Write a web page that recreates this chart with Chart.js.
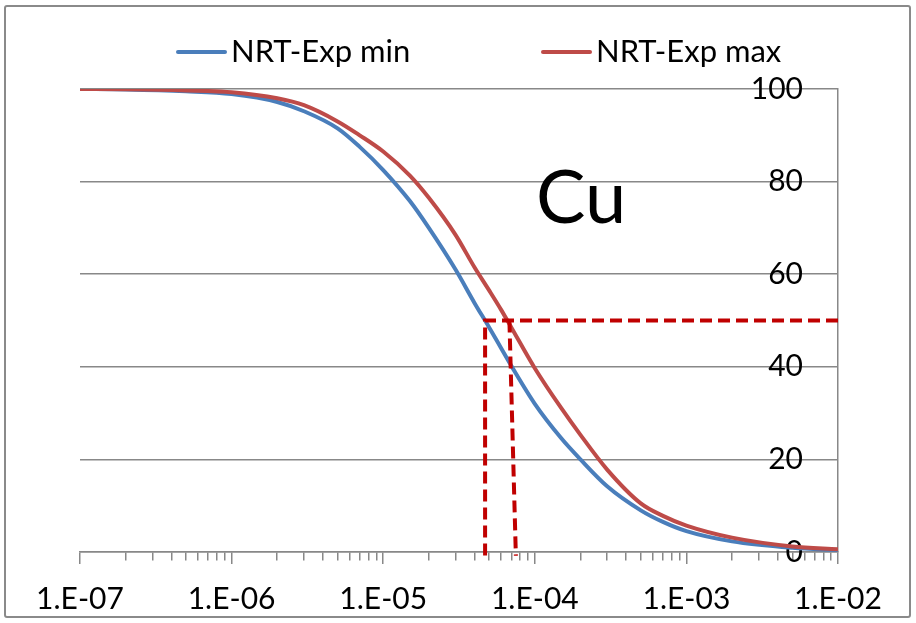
<!DOCTYPE html>
<html><head><meta charset="utf-8">
<script src="https://cdn.jsdelivr.net/npm/chart.js@4.4.1/dist/chart.umd.min.js"></script>
<style>
html,body{margin:0;padding:0;background:#fff;}
#wrap{position:relative;width:916px;height:623px;}
#frame{position:absolute;left:4px;top:5px;width:903px;height:609px;border:2px solid #8a8a8a;border-radius:3px;pointer-events:none;}
canvas{position:absolute;left:0;top:0;}
</style></head><body>
<div id="wrap"><canvas id="c" width="916" height="623"></canvas><div id="frame"></div></div>
<script>
// ---- data ----
const seriesNames = ['NRT-Exp min', 'NRT-Exp max'];
const concMin = [1e-7, 2e-7, 5e-7, 1e-6, 2e-6, 3e-6, 5e-6, 7e-6, 1e-5, 1.5e-5, 2e-5, 3e-5, 4e-5, 5e-5, 6e-5, 7e-5, 1e-4, 1.5e-4, 2e-4, 3e-4, 5e-4, 7e-4, 1e-3, 2e-3, 5e-3, 1e-2];
const pctMin  = [100, 99.9, 99.5, 98.9, 97.2, 95.2, 91.5, 87.5, 82.5, 75.8, 70, 61, 53.8, 48.5, 44, 40.2, 32, 24.5, 20, 14.2, 9, 6.5, 4.5, 2.3, 0.9, 0.4];
const concMax = [1e-7, 2e-7, 5e-7, 1e-6, 2e-6, 3e-6, 5e-6, 7e-6, 1e-5, 1.5e-5, 2e-5, 3e-5, 4e-5, 5e-5, 6e-5, 7e-5, 1e-4, 1.5e-4, 2e-4, 3e-4, 5e-4, 7e-4, 1e-3, 2e-3, 5e-3, 1e-2];
const pctMax  = [100, 99.95, 99.7, 99.3, 98, 96.5, 93, 90, 86.5, 81.3, 76.5, 68.5, 61.5, 56.5, 52.3, 48.5, 39.7, 31, 25.3, 17.8, 10.5, 7.8, 5.7, 3.1, 1.2, 0.6];
// dashed EC50 guide lines
const guideAConc = [1e-2, 4.7e-5, 4.7e-5];
const guideAPct  = [50, 50, -0.8];
const guideBConc = [6.8e-5, 7.5e-5];
const guideBPct  = [50, -0.8];
// axes
const xTickValues = [1e-7, 1e-6, 1e-5, 1e-4, 1e-3, 1e-2];
const xTickLabels = ['1.E-07', '1.E-06', '1.E-05', '1.E-04', '1.E-03', '1.E-02'];
const yTickValues = [0, 20, 40, 60, 80, 100];
const yTickLabels = ['0', '20', '40', '60', '80', '100'];
const annotationText = 'Cu';
const annotationAt = {conc: 1.02e-4, pct: 71};

const FONT = 'Lato, "Liberation Sans", sans-serif';
const zip = (xs, ys) => xs.map((x, i) => ({x, y: ys[i]}));

const legendPlugin = {
  id: 'customLegend',
  afterDraw(chart) {
    const ctx = chart.ctx;
    const starts = [178, 543];
    const y = 52;
    ctx.save();
    ctx.font = '31px ' + FONT;
    ctx.textBaseline = 'middle';
    ctx.textAlign = 'left';
    chart.data.datasets.filter(d => d.inLegend).forEach((d, i) => {
      const x0 = starts[i];
      ctx.strokeStyle = d.borderColor;
      ctx.lineWidth = 4;
      ctx.lineCap = 'round';
      ctx.beginPath(); ctx.moveTo(x0, y); ctx.lineTo(x0 + 47, y); ctx.stroke();
      ctx.fillStyle = '#000';
      ctx.fillText(d.label, x0 + 53, y);
    });
    ctx.restore();
  }
};

const textPlugin = {
  id: 'cuText',
  afterDatasetsDraw(chart) {
    const {ctx, scales: {x, y}} = chart;
    ctx.save();
    ctx.font = '74px ' + FONT;
    ctx.fillStyle = '#000';
    ctx.textAlign = 'left';
    ctx.textBaseline = 'alphabetic';
    ctx.fillText(annotationText, x.getPixelForValue(annotationAt.conc), y.getPixelForValue(annotationAt.pct));
    ctx.restore();
  }
};

new Chart(document.getElementById('c'), {
  type: 'line',
  data: {
    datasets: [
      {label: seriesNames[0], inLegend: true, data: zip(concMin, pctMin), borderColor: '#4A7EBB', borderWidth: 4, pointRadius: 0, cubicInterpolationMode: 'monotone', order: 2},
      {label: seriesNames[1], inLegend: true, data: zip(concMax, pctMax), borderColor: '#BE4B48', borderWidth: 4, pointRadius: 0, cubicInterpolationMode: 'monotone', order: 1},
      {label: 'guideA', data: zip(guideAConc, guideAPct), borderColor: '#C00000', borderWidth: 4, borderDash: [12, 6], pointRadius: 0, tension: 0, order: 0, clip: false},
      {label: 'guideB', data: zip(guideBConc, guideBPct), borderColor: '#C00000', borderWidth: 4, borderDash: [12, 6], pointRadius: 0, tension: 0, order: 0, clip: false}
    ]
  },
  options: {
    responsive: false,
    animation: false,
    layout: {padding: {left: 80, right: 78, top: 89, bottom: -11}},
    plugins: {legend: {display: false}, tooltip: {enabled: false}},
    scales: {
      x: {
        type: 'logarithmic',
        min: 1e-7, max: 1e-2,
        afterBuildTicks: (scale) => {
          const t = [];
          for (let e = -7; e <= -2; e++) {
            for (let m = 1; m <= 9; m++) {
              if (e === -2 && m > 1) break;
              t.push({value: Number(m + 'e' + e), major: m === 1});
            }
          }
          scale.ticks = t;
        },
        grid: {
          drawOnChartArea: false, drawTicks: true, tickLength: 12,
          color: '#888888', lineWidth: 1.5, tickWidth: 1.5,
          tickBorderDash: (c) => (c.tick && c.tick.major) ? [] : [8, 100]
        },
        border: {display: true, color: '#888888', width: 1.5},
        ticks: {
          autoSkip: false, maxRotation: 0, minRotation: 0, padding: 17,
          color: '#000', font: {family: FONT, size: 30},
          callback: (v) => {
            const i = xTickValues.findIndex(t => Math.abs(Math.log10(t) - Math.log10(v)) < 1e-6);
            return i >= 0 ? xTickLabels[i] : '';
          }
        }
      },
      y: {
        position: 'right',
        min: 0, max: 100,
        afterBuildTicks: (scale) => { scale.ticks = yTickValues.map(v => ({value: v})); },
        grid: {color: '#888888', lineWidth: 1.5, drawTicks: false},
        border: {display: true, color: '#888888', width: 1.5},
        ticks: {
          mirror: true, padding: -35,
          color: '#000', font: {family: FONT, size: 30},
          callback: (v) => { const i = yTickValues.indexOf(v); return i >= 0 ? yTickLabels[i] : ''; }
        }
      }
    }
  },
  plugins: [legendPlugin, textPlugin]
});
</script>
</body></html>
